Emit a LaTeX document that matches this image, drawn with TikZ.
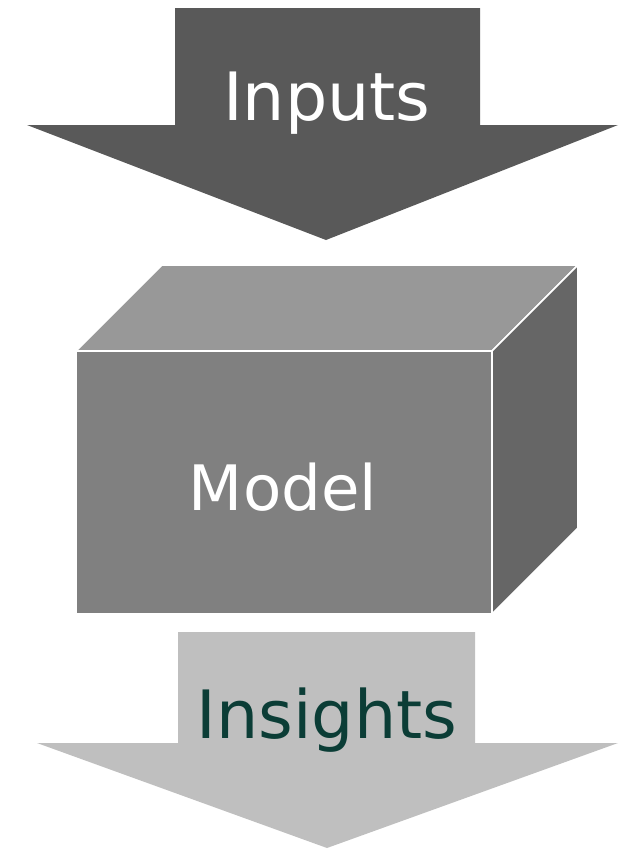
\documentclass[tikz,border=0pt]{standalone}
\usepackage{fontspec}
\setmainfont{DejaVu Sans}
\definecolor{arrowdark}{HTML}{595959}
\definecolor{arrowlight}{HTML}{BFBFBF}
\definecolor{boxfront}{HTML}{808080}
\definecolor{boxtop}{HTML}{989898}
\definecolor{boxside}{HTML}{666666}
\definecolor{insighttext}{HTML}{0B3D36}
\begin{document}
\begin{tikzpicture}[x=0.75pt,y=-0.75pt,
  bigtext/.style={font=\fontsize{50}{54}\selectfont, anchor=base, inner sep=0pt},
  face/.style={draw=white, line width=1.2pt, line join=miter}]
\useasboundingbox (0,0) rectangle (618,850);
% Inputs arrow
\fill[arrowdark] (175,8) -- (480,8) -- (480,125) -- (618,125) -- (326,240) -- (27,125) -- (175,125) -- cycle;
\node[bigtext, text=white] (inputs) at (327,120) {Inputs};
% Model box
\path[face, fill=boxtop] (76,351) -- (162,265) -- (578,265) -- (492,351) -- cycle;
\path[face, fill=boxside] (492,351) -- (578,265) -- (578,528) -- (492,614) -- cycle;
\path[face, fill=boxfront] (76,351) rectangle (492,614);
\node[bigtext, text=white, font=\fontsize{47}{52}\selectfont] (model) at (283,510) {Model};
% Insights arrow
\fill[arrowlight] (178,632) -- (475,632) -- (475,743) -- (618,743) -- (327,848) -- (37,743) -- (178,743) -- cycle;
\node[bigtext, text=insighttext] (insights) at (327,738) {Insights};
\end{tikzpicture}
\end{document}
